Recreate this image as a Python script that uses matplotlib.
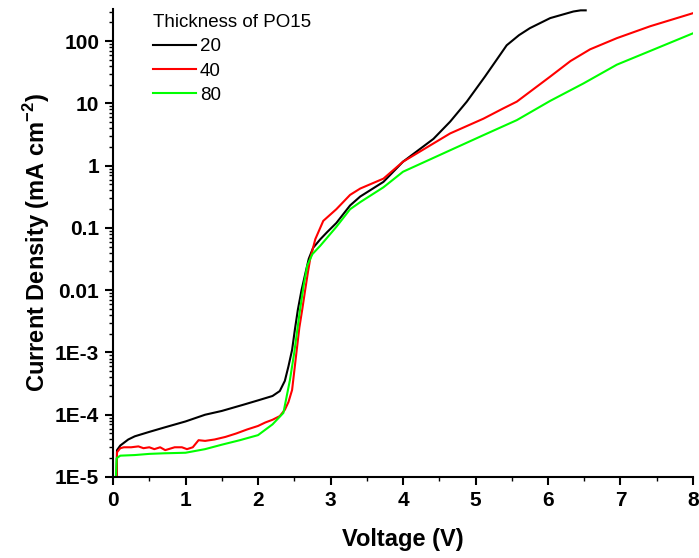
import numpy as np
import matplotlib.pyplot as plt
from matplotlib.ticker import LogLocator, FixedLocator, MultipleLocator, NullFormatter

plt.rcParams['font.family'] = ['Liberation Sans', 'DejaVu Sans']
plt.rcParams['mathtext.fontset'] = 'custom'
plt.rcParams['mathtext.rm'] = 'Liberation Sans:bold'

# thickness 20
v20 = [0.05, 0.055, 0.1, 0.21, 0.3, 0.5, 0.7, 1.0, 1.27, 1.5, 1.8, 2.0, 2.2, 2.3, 2.37,
       2.42, 2.47, 2.51, 2.55, 2.6, 2.65, 2.7, 2.76, 2.86, 2.95, 3.08, 3.27, 3.41, 3.73,
       4.0, 4.42, 4.65, 4.88, 5.13, 5.3, 5.43, 5.6, 5.75, 6.03, 6.35, 6.45, 6.52]
j20 = [1.0e-5, 2.7e-5, 3.2e-5, 4.0e-5, 4.5e-5, 5.3e-5, 6.2e-5, 7.8e-5, 1.0e-4, 1.15e-4, 1.45e-4,
       1.7e-4, 2.0e-4, 2.4e-4, 3.5e-4, 6.0e-4, 1.1e-3, 2.4e-3, 4.9e-3, 1.0e-2, 1.8e-2, 3.2e-2,
       4.8e-2, 6.6e-2, 8.5e-2, 0.12, 0.23, 0.32, 0.55, 1.16, 2.7, 5.1, 10.7, 27, 52, 86, 125,
       162, 235, 300, 313, 313]

# thickness 40
v40 = [0.05, 0.055, 0.1, 0.15, 0.25, 0.35, 0.42, 0.5, 0.57, 0.65, 0.72, 0.85, 0.95, 1.02,
       1.1, 1.18, 1.27, 1.4, 1.55, 1.7, 1.85, 2.0, 2.1, 2.2, 2.3, 2.37, 2.42, 2.47, 2.53,
       2.57, 2.61, 2.65, 2.69, 2.72, 2.79, 2.9, 3.08, 3.27, 3.41, 3.73, 4.0, 4.65, 5.11,
       5.38, 5.57, 6.03, 6.31, 6.58, 6.95, 7.41, 8.0]
j40 = [1.0e-5, 2.5e-5, 2.9e-5, 3.0e-5, 3.0e-5, 3.1e-5, 2.9e-5, 3.0e-5, 2.8e-5, 3.0e-5,
       2.7e-5, 3.0e-5, 3.0e-5, 2.8e-5, 3.0e-5, 3.9e-5, 3.8e-5, 4.0e-5, 4.4e-5, 5.0e-5,
       5.8e-5, 6.6e-5, 7.5e-5, 8.3e-5, 9.5e-5, 1.2e-4, 1.6e-4, 2.5e-4, 1.0e-3, 2.5e-3,
       4.9e-3, 1.0e-2, 2.0e-2, 3.2e-2, 6.6e-2, 0.13, 0.2, 0.34, 0.43, 0.62, 1.16, 3.3, 5.7,
       8.3, 10.7, 27, 48, 74, 112, 174, 282]

# thickness 80
v80 = [0.04, 0.05, 0.1, 0.3, 0.5, 0.7, 1.0, 1.27, 1.5, 1.75, 2.0, 2.2, 2.35, 2.44, 2.5,
       2.58, 2.63, 2.68, 2.75, 2.86, 3.08, 3.27, 3.41, 3.73, 4.0, 4.65, 5.11, 5.57, 6.03,
       6.49, 6.95, 7.4, 8.0]
j80 = [1.0e-5, 2.0e-5, 2.2e-5, 2.25e-5, 2.35e-5, 2.4e-5, 2.45e-5, 2.8e-5, 3.3e-5, 3.9e-5,
       4.7e-5, 7.0e-5, 1.07e-4, 3.6e-4, 1.0e-3, 4.9e-3, 1.2e-2, 2.5e-2, 3.8e-2, 5.2e-2,
       0.104, 0.2, 0.26, 0.45, 0.8, 1.77, 3.1, 5.4, 11, 21, 42, 69, 134]

labels = ['20', '40', '80']
colors = ['black', 'red', '#00ff00']

yticks = [1e-5, 1e-4, 1e-3, 1e-2, 1e-1, 1, 10, 100]
ytick_labels = ['1E-5', '1E-4', '1E-3', '0.01', '0.1', '1', '10', '100']

fig = plt.figure(figsize=(6.99, 5.58), dpi=100)
ax = fig.add_axes([0.1617, 0.1452, 0.8297, 0.8388])

for v, j, lab, c in zip([v20, v40, v80], [j20, j40, j80], labels, colors):
    ax.plot(v, j, color=c, lw=1.5, label=lab)

ax.set_yscale('log')
ax.set_xlim(0, 8)
ax.set_ylim(1e-5, 330)

ax.yaxis.set_major_locator(FixedLocator(yticks))
ax.set_yticklabels(ytick_labels)
ax.yaxis.set_minor_locator(LogLocator(base=10, subs=np.arange(2, 10), numticks=20))
ax.yaxis.set_minor_formatter(NullFormatter())
ax.xaxis.set_major_locator(MultipleLocator(1))
ax.xaxis.set_minor_locator(MultipleLocator(0.5))

for s in ['top', 'right']:
    ax.spines[s].set_visible(False)
for s in ['left', 'bottom']:
    ax.spines[s].set_linewidth(1.5)

ax.tick_params(which='major', direction='out', length=6, width=1.5, labelsize=15, pad=4)
ax.tick_params(which='minor', direction='out', length=3, width=1.0)
for t in ax.get_xticklabels() + ax.get_yticklabels():
    t.set_fontweight('bold')

ax.set_xlabel('Voltage (V)', fontsize=17, fontweight='bold', labelpad=13)
ax.set_ylabel(r'Current Density (mA cm$^{-2}$)', fontsize=17, fontweight='bold', labelpad=2)

leg = ax.legend(title='Thickness of PO15', loc='upper left', bbox_to_anchor=(0.056, 1.005),
                frameon=False, fontsize=13.5, title_fontsize=13.5, handlelength=2.3,
                labelspacing=0.38, handletextpad=0.2, borderaxespad=0)
leg._legend_box.align = 'left'

fig.savefig('out.png', dpi=100)
